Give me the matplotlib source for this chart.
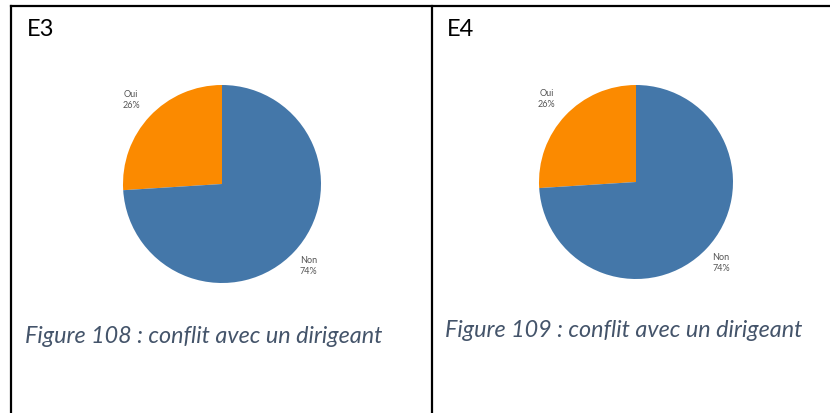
import numpy as np
import matplotlib.pyplot as plt
from matplotlib.lines import Line2D

panel_titles = ['E3', 'E4']
captions = ['Figure 108 : conflit avec un dirigeant',
            'Figure 109 : conflit avec un dirigeant']
slice_names = ['Oui', 'Non']
slice_values = [[26, 74], [26, 74]]
slice_colors = ['#FB8A00', '#4477A9']

W, H = 830, 414
fig = plt.figure(figsize=(W / 100, H / 100), dpi=100)
fig.patch.set_facecolor('white')


def px_axes(x0, y0, x1, y1):
    # pixel box (top-left origin) -> figure axes
    return fig.add_axes([x0 / W, 1 - y1 / H, (x1 - x0) / W, (y1 - y0) / H])


# table borders
for xs, ys in [([11, W], [7, 7]), ([11, 11], [7, H]), ([432, 432], [7, H])]:
    fig.add_artist(Line2D([x / W for x in xs], [1 - y / H for y in ys],
                          color='black', lw=1.6, transform=fig.transFigure))

pies = [(222, 185, 99), (636, 183, 97)]
title_x = [27, 447]
caption_y = [337, 331]
label_dist = [1.26, 1.2]

for i, (cx, cy, r) in enumerate(pies):
    ax = px_axes(cx - r, cy - r, cx + r, cy + r)
    labels = [f'{n}\n{v}%' for n, v in zip(slice_names, slice_values[i])]
    wedges, texts = ax.pie(slice_values[i], labels=labels, colors=slice_colors,
                           startangle=90, counterclock=True,
                           wedgeprops=dict(linewidth=0),
                           textprops=dict(fontsize=6.5, color='#555555',
                                          family='Lato', linespacing=1.3))
    for t, w, d in zip(texts, wedges, label_dist):
        ang = np.deg2rad((w.theta1 + w.theta2) / 2)
        t.set_position((d * np.cos(ang), d * np.sin(ang)))
        t.set_ha('center')
        t.set_multialignment('center')
    ax.set_xlim(-1, 1)
    ax.set_ylim(-1, 1)
    ax.set_aspect('equal')
    ax.axis('off')

    fig.text(title_x[i] / W, 1 - 30 / H, panel_titles[i], fontsize=17,
             family='Lato', ha='left', va='center', color='black')
    fig.text((title_x[i] - 2) / W, 1 - caption_y[i] / H, captions[i],
             fontsize=16.8, family='Lato', style='italic', ha='left',
             va='center', color='#44546A')

fig.savefig('out.png', dpi=100)
